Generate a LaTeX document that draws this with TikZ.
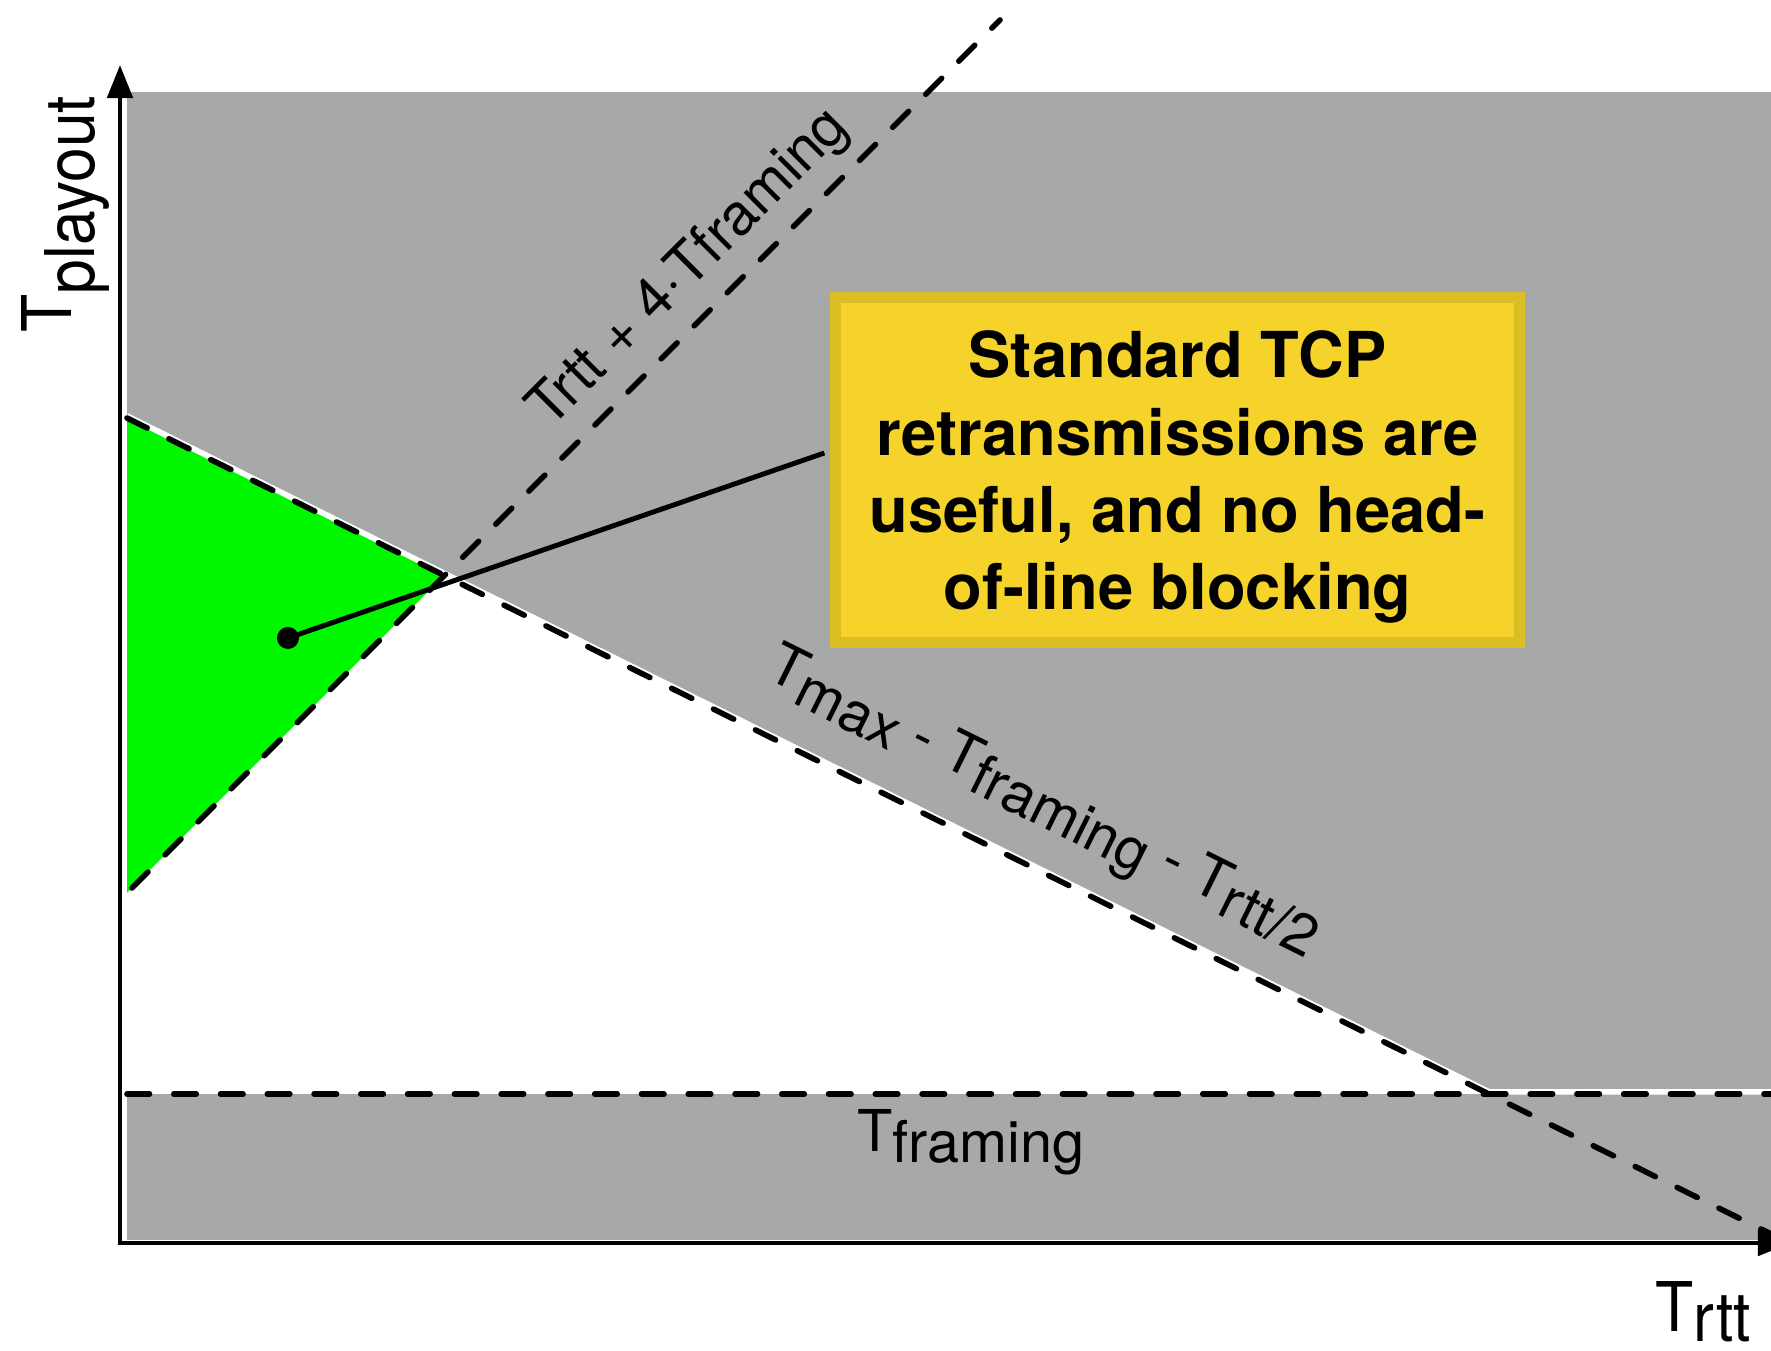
\documentclass[tikz,border=0pt]{standalone}
\usepackage{graphicx}
\usepackage{fontspec}
\setmainfont{TeX Gyre Heros}
\usetikzlibrary{arrows.meta,positioning,calc}
\definecolor{areagray}{RGB}{166,169,168}
\definecolor{okgreen}{RGB}{0,247,0}
\definecolor{boxfill}{RGB}{245,211,43}
\definecolor{boxedge}{RGB}{219,190,36}
\tikzstyle{axis} = [line width=1.4pt, {Triangle[length=0.33cm,width=0.25cm]}-{Triangle[length=0.33cm,width=0.25cm]}]
\tikzstyle{bound} = [line width=1.6pt, line cap=round, dash pattern=on 6.4pt off 6.9pt]
\tikzstyle{halo} = [line width=1.6pt, white]
\newcommand{\tsub}[2][3pt]{T\raisebox{-#1}{#2}}

\begin{document}
\begin{tikzpicture}[x=0.01cm, y=0.01cm,
  lbl/.style={inner sep=0, font=\fontsize{16.4}{19}\selectfont},
  axlbl/.style={inner sep=0, font=\fontsize{19.5}{23}\selectfont},
  note/.style={rectangle, draw=boxedge, line width=3.1pt, fill=boxfill,
    align=center, minimum width=6.84cm, minimum height=3.45cm, inner sep=0,
    font=\fontsize{18}{22}\selectfont\bfseries}]
  \useasboundingbox (0,0) rectangle (1771,1351);
  % corner points of the regions
  \coordinate (o) at (120,108);
  \coordinate (xtip) at (1791,108);
  \coordinate (ytip) at (120,1286);
  \coordinate (atop) at (127,933);
  \coordinate (aend) at (1771,117);
  \coordinate (bbot) at (132,463);
  \coordinate (btop) at (1000,1331);
  \coordinate (cross) at (444.2,775.2);
  \coordinate (glow) at (127,458);
  \coordinate (hleft) at (127,257);
  \coordinate (hcross) at (1489,257);
  \coordinate (hright) at (1771,257);
  % draw shaded areas
  \fill[areagray] (127,111) rectangle (1771,1259);
  \fill[white] (atop) -- (hcross) -- (hleft) -- cycle;
  \fill[okgreen] (atop) -- (cross) -- (glow) -- cycle;
  % draw white edges under the bounds
  \draw[halo] ([yshift=0.6pt]atop) -- ([yshift=0.6pt]hcross) -- ([yshift=0.6pt]hright);
  % draw bounds
  \draw[bound] (atop) -- (aend);
  \draw[bound] (bbot) -- (btop);
  \draw[bound] (hleft) -- (hright);
  % draw axes
  \draw[axis] (ytip) -- (o) -- (xtip);
  % draw labels
  \node[axlbl, rotate=90, anchor=base west] (ylab) at (71,1018) {\scalebox{0.91}[1]{\tsub[6.8pt]{playout}}};
  \node[axlbl, anchor=base west] (xlab) at (1655,19) {\scalebox{0.91}[1]{\tsub[2.8pt]{rtt}}};
  \node[lbl, anchor=base] (flab) at (971,199) {\tsub{framing}};
  \node[lbl, rotate=45] (blab) at (690,1082) {Trtt + 4·Tframing};
  \node[lbl, rotate=-26.4] (alab) at (1042,546) {\tsub{max} - \tsub{framing} - \tsub{rtt/2}};
  % draw callout
  \node[note] (tcp) at (1177.5,881) {\rule{0pt}{17.5pt}Standard TCP\\retransmissions are\\useful, and no head-\\of-line blocking};
  \node[circle, fill=black, inner sep=0, minimum size=0.22cm] (pt) at (288,713) {};
  \draw[line width=1.4pt] (pt.center) -- ($(tcp.west)+(-5.5,17)$);
\end{tikzpicture}
\end{document}
